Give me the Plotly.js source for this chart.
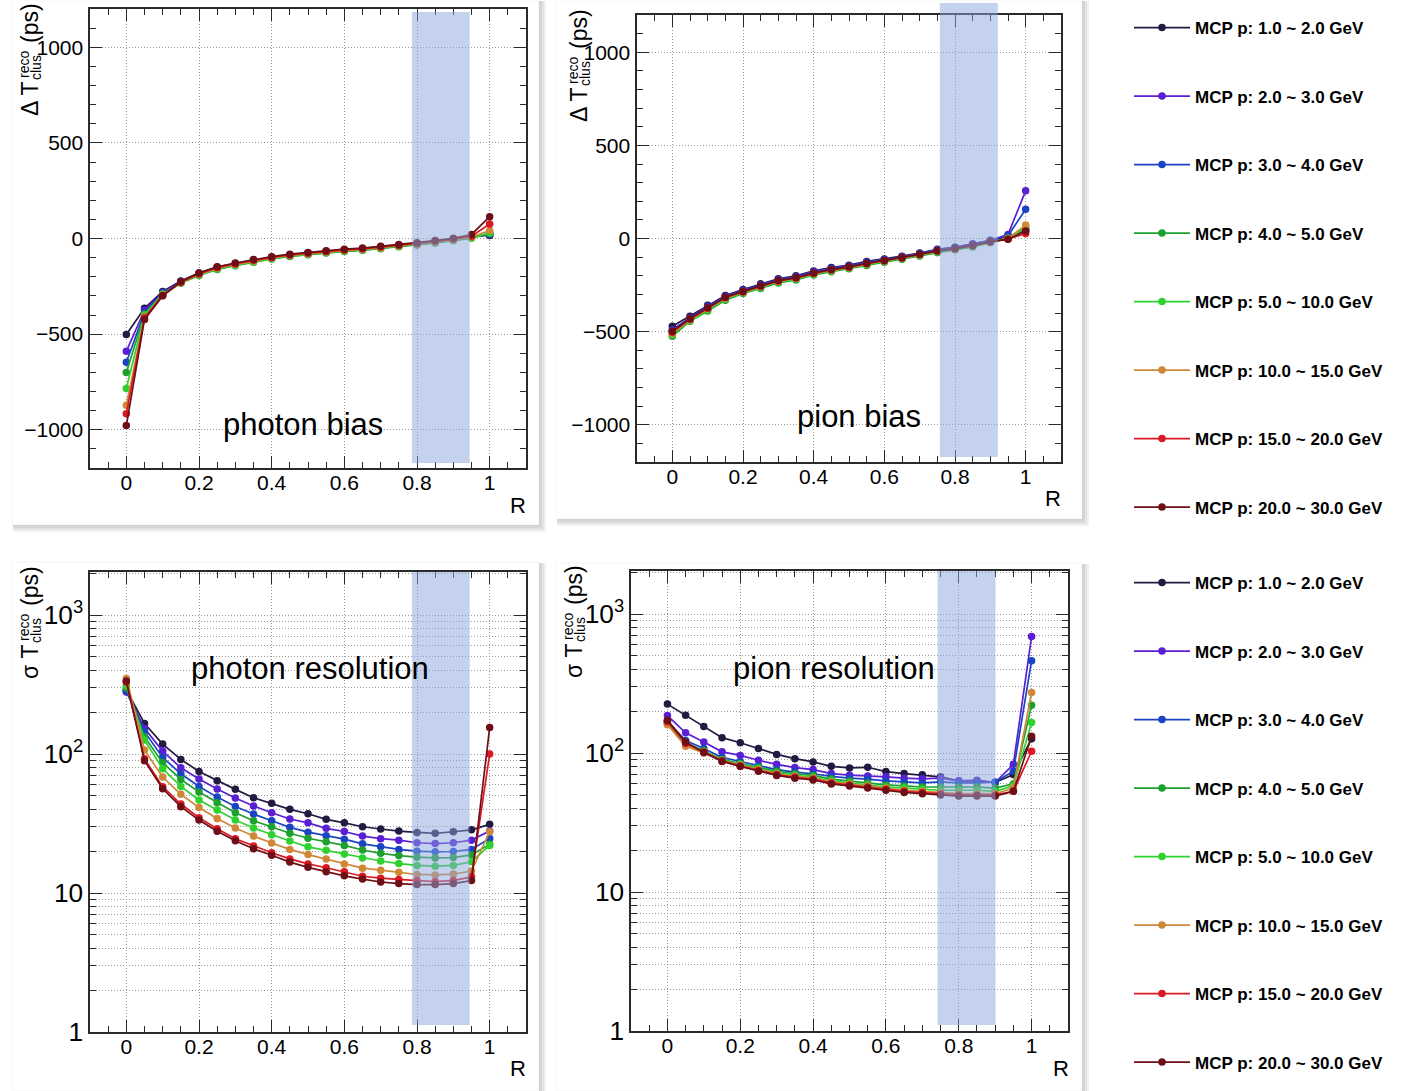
<!DOCTYPE html>
<html><head><meta charset="utf-8">
<script src="https://cdn.plot.ly/plotly-3.0.1.min.js"></script>
<style>html,body{margin:0;padding:0;background:#fff;} #chart{width:1403px;height:1091px;}</style>
</head><body><div id="chart"></div>
<script>
// ---------------- DATA ----------------
const R = [0,0.05,0.10,0.15,0.20,0.25,0.30,0.35,0.40,0.45,0.50,0.55,0.60,0.65,0.70,0.75,0.80,0.85,0.90,0.95,1.00];
const seriesLabels = ['MCP p: 1.0 ~ 2.0 GeV','MCP p: 2.0 ~ 3.0 GeV','MCP p: 3.0 ~ 4.0 GeV','MCP p: 4.0 ~ 5.0 GeV',
  'MCP p: 5.0 ~ 10.0 GeV','MCP p: 10.0 ~ 15.0 GeV','MCP p: 15.0 ~ 20.0 GeV','MCP p: 20.0 ~ 30.0 GeV'];
const seriesColors = ['#221a40','#5a1ed4','#1a44c4','#1ea02e','#2ed22e','#cf8838','#da1a22','#6e0e16'];
const xTicks = [0,0.2,0.4,0.6,0.8,1];
const panelLabels = ['photon bias','pion bias','photon resolution','pion resolution'];

// photon bias (ps)
const photonBias_1_2   = [-502,-365,-277,-222,-180,-150,-131,-113,-98,-85,-76,-68,-60,-53,-45,-35,-25,-14,-2,12,16];
const photonBias_2_3   = [-590,-375,-282,-226,-184,-154,-135,-117,-101,-88,-79,-70,-62,-56,-47,-37,-28,-17,-5,8,22];
const photonBias_3_4   = [-647,-388,-285,-230,-189,-158,-138,-120,-104,-91,-82,-73,-65,-59,-50,-40,-31,-20,-8,5,21];
const photonBias_4_5   = [-701,-396,-290,-234,-193,-162,-142,-124,-107,-94,-85,-76,-68,-62,-53,-43,-34,-23,-11,2,26];
const photonBias_5_10  = [-784,-400,-292,-233,-191,-160,-140,-122,-105,-92,-83,-74,-66,-60,-51,-41,-32,-21,-9,3,30];
const photonBias_10_15 = [-872,-410,-296,-231,-188,-156,-136,-118,-102,-89,-80,-71,-63,-57,-48,-38,-29,-18,-6,8,42];
const photonBias_15_20 = [-916,-414,-298,-228,-184,-152,-132,-114,-99,-86,-77,-68,-60,-54,-45,-35,-26,-15,-3,12,76];
const photonBias_20_30 = [-978,-423,-300,-226,-180,-148,-128,-110,-95,-82,-73,-64,-56,-50,-41,-31,-22,-11,1,21,114];

// pion bias (ps)
const pionBias_1_2   = [-471,-417,-359,-306,-274,-243,-216,-200,-174,-156,-143,-123,-110,-95,-78,-58,-47,-30,-11,10,45];
const pionBias_2_3   = [-490,-425,-365,-310,-278,-248,-220,-204,-178,-160,-146,-127,-113,-98,-80,-60,-48,-30,-10,21,256];
const pionBias_3_4   = [-495,-428,-368,-313,-281,-251,-223,-207,-181,-162,-148,-129,-115,-100,-82,-62,-50,-32,-12,15,157];
const pionBias_4_5   = [-525,-444,-389,-331,-295,-268,-239,-223,-196,-178,-163,-145,-127,-112,-94,-76,-60,-45,-22,0,54];
const pionBias_5_10  = [-518,-440,-384,-326,-291,-264,-235,-219,-192,-174,-159,-141,-124,-109,-91,-72,-58,-42,-20,2,60];
const pionBias_10_15 = [-510,-436,-378,-321,-288,-259,-231,-215,-189,-170,-156,-137,-121,-106,-88,-69,-56,-39,-18,0,72];
const pionBias_15_20 = [-503,-433,-374,-317,-286,-256,-228,-212,-187,-168,-154,-135,-119,-104,-86,-67,-55,-38,-18,-4,27];
const pionBias_20_30 = [-498,-430,-372,-315,-284,-254,-226,-210,-185,-166,-152,-133,-118,-103,-85,-66,-54,-37,-17,-4,40];

// photon resolution (ps)
const photonRes_1_2   = [290,166,118,91.5,75,64.3,55.7,48.5,44.2,40.0,37.2,33.9,32.0,30.0,28.9,27.9,27.3,26.9,27.6,28.5,31.2];
const photonRes_2_3   = [280,153,105,79.7,66.1,56.0,48.3,42.3,37.8,34.1,32.0,29.2,27.7,25.7,24.6,24.0,23.0,22.7,23.0,24.0,28.0];
const photonRes_3_4   = [285,145,94.6,72.2,58.5,49.0,42.0,37.0,33.1,29.7,27.4,25.8,24.4,22.6,21.5,20.6,20.0,19.8,19.9,20.6,24.7];
const photonRes_4_5   = [300,133,86.6,65.7,53.3,44.7,37.8,33.1,30.0,26.9,24.8,23.4,22.0,20.4,19.3,18.6,18.1,17.9,18.0,18.8,22.4];
const photonRes_5_10  = [310,126,78.4,58.5,46.7,39.6,33.5,29.4,26.3,23.7,21.5,20.3,19.1,17.9,17.0,16.3,15.8,15.6,15.8,16.8,22.0];
const photonRes_10_15 = [350,107,68.3,51.3,41.3,34.4,29.4,25.7,22.9,20.6,18.9,17.6,16.2,15.1,14.6,14.1,13.6,13.5,13.7,14.4,27.6];
const photonRes_15_20 = [330,92.5,58.2,43.7,34.8,29.0,24.6,21.8,19.5,17.6,16.2,15.2,14.2,13.2,12.8,12.5,12.3,12.1,12.3,13.1,100];
const photonRes_20_30 = [335,89.5,56.3,41.8,33.5,27.8,23.8,20.8,18.7,16.7,15.3,14.2,13.3,12.6,12.0,11.7,11.5,11.5,11.7,12.3,155];

// pion resolution (ps)
const pionRes_1_2   = [225,187,155,129,118.6,108,97.8,91.1,86.3,80.3,78.1,79.0,73.6,71.2,69.7,67.4,63.1,63.1,61.4,70,127];
const pionRes_2_3   = [186,140,120,102,96.2,88.7,83.0,78.6,76.0,71.2,69.3,68.5,67.4,65.9,65.2,65.9,63.1,63.8,61.4,83,689];
const pionRes_3_4   = [170,123,108,93,87,81,76,73,71,68,66,65,63,62,61,62,61,61,62,74,462];
const pionRes_4_5   = [162,118,104,90,84,79,74,71,69,65,63,61,59,58,57,57,57,57,56,60,221];
const pionRes_5_10  = [165,116,103,89,83,77,72,69,67,63,61,59,57,56,55,54,54,54,53,58,166];
const pionRes_10_15 = [160,112,100,88,82,76,71,68,66,62,60,58,56,54,53,52,51,51,51,56,273];
const pionRes_15_20 = [168,117,102,88,81,75,70,67,65,61,59,57,55,53,52,51,50,50,50,53,103];
const pionRes_20_30 = [172,120,101,87,80,74,69,66,64,60,58,56,54,52,51,50,49,49,49,53,132];

// highlighted R bands [R0, R1] per panel
const bandPhotonBias = [0.786, 0.945];
const bandPionBias   = [0.757, 0.921];
const bandPhotonRes  = [0.786, 0.945];
const bandPionRes    = [0.742, 0.901];

// ---------------- LAYOUT HELPERS ----------------
const W = 1403, H = 1091;
const FONT = 'Liberation Sans, Arial, Helvetica, sans-serif';
const px = x => x / W;
const py = y => 1 - y / H;
const XR = [-0.1, 1.1];

const panels = [
  {sfx:'',  data:[photonBias_1_2,photonBias_2_3,photonBias_3_4,photonBias_4_5,photonBias_5_10,photonBias_10_15,photonBias_15_20,photonBias_20_30],
   frame:[90,9,526,468], log:false, band:bandPhotonBias, bandY:[0.011,0.9935], legend:'legend', ttl:'Δ T', ttlX:-60,
   label:[303,424], rlab:[518,505], card:[12,0,539,525]},
  {sfx:'2', data:[pionBias_1_2,pionBias_2_3,pionBias_3_4,pionBias_4_5,pionBias_5_10,pionBias_10_15,pionBias_15_20,pionBias_20_30],
   frame:[637,15,1061,462], log:false, band:bandPionBias, bandY:[0.011,1.027], legend:null, ttl:'Δ T', ttlX:-58,
   label:[859,416], rlab:[1053,498], card:[556,0,1082,519]},
  {sfx:'3', data:[photonRes_1_2,photonRes_2_3,photonRes_3_4,photonRes_4_5,photonRes_5_10,photonRes_10_15,photonRes_15_20,photonRes_20_30],
   frame:[90,572,526,1032], log:true, band:bandPhotonRes, bandY:[0.015,1.0], legend:'legend2', ttl:'σ T', ttlX:-60,
   label:[310,668], rlab:[518,1068], card:[12,562,539,1091]},
  {sfx:'4', data:[pionRes_1_2,pionRes_2_3,pionRes_3_4,pionRes_4_5,pionRes_5_10,pionRes_10_15,pionRes_15_20,pionRes_20_30],
   frame:[631,571,1068,1031], log:true, band:bandPionRes, bandY:[0.013,1.0], legend:null, ttl:'σ T', ttlX:-57,
   label:[834,668], rlab:[1061,1068], card:[556,563,1082,1091]}
];

const traces = [];
const shapes = [];
const annotations = [];
const legendBase = {xanchor:'left', yanchor:'top', bgcolor:'rgba(0,0,0,0)', borderwidth:0,
  itemwidth:56, tracegroupgap:43.4, font:{family:FONT, size:17, color:'#000', weight:'bold'}, itemclick:false, itemdoubleclick:false};
const layout = {
  width: W, height: H, margin:{l:0,r:0,t:0,b:0},
  paper_bgcolor:'#ffffff', plot_bgcolor:'#ffffff', showlegend:true,
  font:{family:FONT, color:'#000'},
  shapes, annotations,
  legend: Object.assign({x:px(1129), y:py(10)}, legendBase),
  legend2: Object.assign({x:px(1129), y:py(565)}, legendBase)
};

const gridDash = '1px,2px';
const gridColor = '#9a9a9a';
const lineColor = '#2a2a2a';

panels.forEach((p, pi) => {
  const [fx0, fy0, fx1, fy1] = p.frame;
  const xa = 'xaxis' + p.sfx, ya = 'yaxis' + p.sfx;
  layout[xa] = {
    domain:[px(fx0), px(fx1)], range:XR, anchor:'y'+p.sfx,
    tickmode:'array', tickvals:xTicks, ticks:'inside', ticklen:12, tickwidth:1, tickcolor:lineColor,
    showline:true, linecolor:lineColor, linewidth:1.6, mirror:'ticks',
    showgrid:true, gridcolor:gridColor, griddash:gridDash, gridwidth:1, zeroline:false,
    tickfont:{family:FONT, size:21, color:'#000'}, ticklabelstandoff:-5,
    minor:{dtick:0.05, tick0:0, ticks:'inside', ticklen:6, tickwidth:1, tickcolor:lineColor, showgrid:false},
    fixedrange:true
  };
  const yBase = {
    domain:[py(fy1), py(fy0)], anchor:'x'+p.sfx,
    ticks:'inside', ticklen:12, tickwidth:1, tickcolor:lineColor,
    showline:true, linecolor:lineColor, linewidth:1.6, mirror:'ticks',
    showgrid:true, gridcolor:gridColor, griddash:gridDash, gridwidth:1, zeroline:false,
    tickfont:{family:FONT, size:21, color:'#000'}, ticklabelstandoff:1, fixedrange:true
  };
  if (p.log) {
    Object.assign(yBase, {type:'log', range:[0, 3.31], tickmode:'linear', tick0:0, dtick:1, exponentformat:'power',
      minor:{dtick:'D1', ticks:'inside', ticklen:6, tickwidth:1, tickcolor:lineColor, showgrid:true, gridcolor:gridColor, griddash:gridDash, gridwidth:1}});
  } else {
    Object.assign(yBase, {range:[-1200, 1200], tickmode:'linear', tick0:0, dtick:500,
      minor:{dtick:100, tick0:0, ticks:'inside', ticklen:6, tickwidth:1, tickcolor:lineColor, showgrid:false}});
  }
  layout[ya] = yBase;

  // card with soft shadow
  const [cx0, cy0, cx1, cy1] = p.card;
  [7,5,3].forEach(s => shapes.push({type:'rect', xref:'paper', yref:'paper', layer:'below',
    x0:px(cx0+1), x1:px(cx1+s), y0:py(cy1+s), y1:py(cy0+1), line:{width:0}, fillcolor:'rgba(0,0,0,0.055)'}));
  shapes.push({type:'rect', xref:'paper', yref:'paper', layer:'below',
    x0:px(cx0), x1:px(cx1), y0:py(cy1), y1:py(cy0), line:{width:0.6, color:'rgba(0,0,0,0.08)'}, fillcolor:'#ffffff'});

  // traces
  p.data.forEach((vals, si) => {
    const t = {
      type:'scatter', mode:'lines+markers', x:R, y:vals, xaxis:'x'+p.sfx, yaxis:'y'+p.sfx,
      name:seriesLabels[si], line:{color:seriesColors[si], width:1.7},
      marker:{color:seriesColors[si], size:7.5, symbol:'circle'}, hoverinfo:'skip', cliponaxis:false
    };
    if (p.legend) { t.legend = p.legend; t.legendgroup = p.legend + si; t.showlegend = true; }
    else t.showlegend = false;
    traces.push(t);
  });

  // highlighted band (semi-transparent, above the data)
  const toFrac = v => (v - XR[0]) / (XR[1] - XR[0]);
  shapes.push({type:'rect', xref:'x'+p.sfx+' domain', yref:'y'+p.sfx+' domain', layer:'above',
    x0:toFrac(p.band[0]), x1:toFrac(p.band[1]), y0:p.bandY[0], y1:p.bandY[1],
    line:{width:0}, fillcolor:'rgb(138,166,219)', opacity:0.5});

  // y-axis title pieces (ROOT-style stacked super/subscript)
  const tx = fx0 + p.ttlX;
  const tBase = {xref:'paper', yref:'paper', showarrow:false, textangle:-90, xanchor:'center', yanchor:'middle'};
  annotations.push(Object.assign({}, tBase, {x:px(tx), y:py(fy0+90), text:p.ttl, font:{family:FONT, size:23, color:'#000'}}));
  annotations.push(Object.assign({}, tBase, {x:px(tx-6), y:py(fy0+56), text:'reco', font:{family:FONT, size:14, color:'#000'}}));
  annotations.push(Object.assign({}, tBase, {x:px(tx+6), y:py(fy0+59), text:'clus', font:{family:FONT, size:14, color:'#000'}}));
  annotations.push(Object.assign({}, tBase, {x:px(tx), y:py(fy0+14), text:'(ps)', font:{family:FONT, size:23, color:'#000'}}));

  // panel label and x-axis title
  annotations.push({xref:'paper', yref:'paper', showarrow:false, x:px(p.label[0]), y:py(p.label[1]), xanchor:'center', yanchor:'middle',
    text:panelLabels[pi], font:{family:FONT, size:31, color:'#000'}});
  annotations.push({xref:'paper', yref:'paper', showarrow:false, x:px(p.rlab[0]), y:py(p.rlab[1]), xanchor:'center', yanchor:'middle',
    text:'R', font:{family:FONT, size:22, color:'#000'}});
});

Plotly.newPlot('chart', traces, layout, {displayModeBar:false, staticPlot:true});
</script>
</body></html>
